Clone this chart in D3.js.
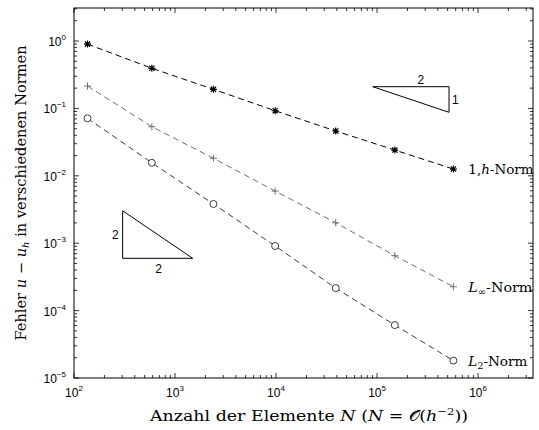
<!DOCTYPE html>
<html>
<head>
<meta charset="utf-8">
<script src="https://cdn.jsdelivr.net/npm/d3@7"></script>
<style>
body { margin: 0; background: #fff; }
</style>
</head>
<body>
<div id="chart"></div>
<script>
var nElements = [136, 590, 2400, 9800, 39000, 150000, 570000];
var errH1 = [0.90, 0.394, 0.192, 0.0924, 0.0462, 0.0241, 0.0126];
var errLinf = [0.215, 0.0535, 0.0182, 0.00594, 0.00201, 0.000653, 0.000226];
var errL2 = [0.0713, 0.0156, 0.00382, 0.00091, 0.000216, 0.000061, 0.0000181];
var xTickExp = [2, 3, 4, 5, 6];
var yTickExp = [0, -1, -2, -3, -4, -5];
// slope triangles: [x0, x1], [y0, y1]
var triUpX = [90600, 516000], triUpY = [0.21, 0.0875];
var triLowX = [303, 1496], triLowY = [0.00303, 0.000597];

var width = 539, height = 430;
var margin = {top: 8, right: 6, bottom: 52, left: 74};
var iw = width - margin.left - margin.right,
    ih = height - margin.top - margin.bottom;

var x = d3.scaleLog().domain([100, 3.5e6]).range([0, iw]);
var y = d3.scaleLog().domain([1e-5, 3.09]).range([ih, 0]);

var serif = "'DejaVu Serif', 'Liberation Serif', serif";

var svg = d3.select("#chart").append("svg")
  .attr("width", width)
  .attr("height", height)
  .style("font-family", "'Liberation Sans', Arial, sans-serif");

var g = svg.append("g")
  .attr("transform", "translate(" + margin.left + "," + margin.top + ")");

// minor / major ticks, inside on all four sides
var xMinor = [], yMinor = [];
for (var e = 2; e <= 6; e++) for (var m = 1; m <= 9; m++) {
  var v = m * Math.pow(10, e);
  if (v <= 3.5e6) xMinor.push(v);
}
for (var e = -5; e <= 0; e++) for (var m = 1; m <= 9; m++) {
  var v = m * Math.pow(10, e);
  if (v <= 3.09) yMinor.push(v);
}
function tickLen(v) {
  var l = Math.log10(v);
  return Math.abs(l - Math.round(l)) < 1e-9 ? 5 : 3;
}
g.selectAll(".xtick").data(xMinor).enter().append("path")
  .attr("d", function(d) {
    var px = x(d), L = tickLen(d);
    return "M" + px + "," + ih + "v" + (-L) + "M" + px + ",0v" + L;
  })
  .attr("stroke", "#000").attr("stroke-width", 0.8);
g.selectAll(".ytick").data(yMinor).enter().append("path")
  .attr("d", function(d) {
    var py = y(d), L = tickLen(d);
    return "M0," + py + "h" + L + "M" + iw + "," + py + "h" + (-L);
  })
  .attr("stroke", "#000").attr("stroke-width", 0.8);

g.append("rect")
  .attr("width", iw).attr("height", ih)
  .attr("fill", "none").attr("stroke", "#000").attr("stroke-width", 1);

// tick labels
var xl = g.selectAll(".xl").data(xTickExp).enter().append("text")
  .attr("x", function(d) { return x(Math.pow(10, d)); })
  .attr("y", ih + 19)
  .attr("text-anchor", "middle")
  .style("font-size", "12px");
xl.append("tspan").text("10");
xl.append("tspan").attr("dy", -6).style("font-size", "8px").text(function(d) { return d; });

var yl = g.selectAll(".yl").data(yTickExp).enter().append("text")
  .attr("x", -8)
  .attr("y", function(d) { return y(Math.pow(10, d)) + 5; })
  .attr("text-anchor", "end")
  .style("font-size", "12px");
yl.append("tspan").text("10");
yl.append("tspan").attr("dy", -6).style("font-size", "8px")
  .text(function(d) { return d < 0 ? "\u2212" + (-d) : d; });

// series
var series = [
  {vals: errH1, color: "#000", marker: "star", label: "h1", w: 65},
  {vals: errLinf, color: "#6e6e6e", marker: "plus", label: "linf", w: 64},
  {vals: errL2, color: "#3c3c3c", marker: "circle", label: "l2", w: 59}
];

var line = d3.line()
  .x(function(d) { return x(d[0]); })
  .y(function(d) { return y(d[1]); });

series.forEach(function(s) {
  var pts = nElements.map(function(n, i) { return [n, s.vals[i]]; });
  g.append("path")
    .attr("d", line(pts))
    .attr("fill", "none")
    .attr("stroke", s.color)
    .attr("stroke-width", 1)
    .attr("stroke-dasharray", "6,4");

  var mk = g.selectAll(".m-" + s.label).data(pts).enter().append("g")
    .attr("transform", function(d) { return "translate(" + x(d[0]) + "," + y(d[1]) + ")"; });
  if (s.marker === "circle") {
    mk.append("circle").attr("r", 3.5)
      .attr("fill", "#fff").attr("stroke", s.color).attr("stroke-width", 1);
  } else if (s.marker === "plus") {
    mk.append("path").attr("d", "M-3.5,0h7M0,-3.5v7")
      .attr("stroke", s.color).attr("stroke-width", 1);
  } else {
    mk.append("path").attr("d", "M-3.5,0h7M0,-3.5v7M-2.6,-2.6l5.2,5.2M-2.6,2.6l5.2,-5.2")
      .attr("stroke", s.color).attr("stroke-width", 1.2);
  }

  var last = pts[pts.length - 1];
  var t = g.append("text")
    .attr("x", x(last[0]) + 15)
    .attr("y", y(last[1]) + 5)
    .attr("textLength", s.w)
    .attr("lengthAdjust", "spacingAndGlyphs")
    .style("font-family", serif)
    .style("font-size", "13px");
  if (s.label === "h1") {
    t.append("tspan").text("1,");
    t.append("tspan").style("font-style", "italic").text("h");
    t.append("tspan").text("-Norm");
  } else if (s.label === "linf") {
    t.append("tspan").style("font-style", "italic").text("L");
    t.append("tspan").attr("dy", 3).style("font-size", "9px").text("\u221e");
    t.append("tspan").attr("dy", -3).text("-Norm");
  } else {
    t.append("tspan").style("font-style", "italic").text("L");
    t.append("tspan").attr("dy", 3).style("font-size", "9px").text("2");
    t.append("tspan").attr("dy", -3).text("-Norm");
  }
});

// slope triangles
g.append("path")
  .attr("d", "M" + x(triUpX[0]) + "," + y(triUpY[0]) +
    "H" + x(triUpX[1]) + "V" + y(triUpY[1]) + "Z")
  .attr("fill", "none").attr("stroke", "#000").attr("stroke-width", 1);
g.append("text")
  .attr("x", (x(triUpX[0]) + x(triUpX[1])) / 2 + 10)
  .attr("y", y(triUpY[0]) - 3)
  .attr("text-anchor", "middle").style("font-size", "12px").text("2");
g.append("text")
  .attr("x", x(triUpX[1]) + 3)
  .attr("y", (y(triUpY[0]) + y(triUpY[1])) / 2 + 4)
  .style("font-size", "12px").text("1");

g.append("path")
  .attr("d", "M" + x(triLowX[0]) + "," + y(triLowY[0]) +
    "V" + y(triLowY[1]) + "H" + x(triLowX[1]) + "Z")
  .attr("fill", "none").attr("stroke", "#000").attr("stroke-width", 1);
g.append("text")
  .attr("x", x(triLowX[0]) - 4)
  .attr("y", (y(triLowY[0]) + y(triLowY[1])) / 2 + 4)
  .attr("text-anchor", "end").style("font-size", "12px").text("2");
g.append("text")
  .attr("x", (x(triLowX[0]) + x(triLowX[1])) / 2 + 1)
  .attr("y", y(triLowY[1]) + 15)
  .attr("text-anchor", "middle").style("font-size", "12px").text("2");

// axis titles
var xt = svg.append("text")
  .attr("x", 150)
  .attr("y", 421)
  .attr("textLength", 318)
  .attr("lengthAdjust", "spacingAndGlyphs")
  .style("font-family", serif)
  .style("font-size", "15px");
xt.append("tspan").text("Anzahl der Elemente ");
xt.append("tspan").style("font-style", "italic").text("N");
xt.append("tspan").text(" (");
xt.append("tspan").style("font-style", "italic").text("N");
xt.append("tspan").text(" = ");
xt.append("tspan").text("\ud835\udcaa");
xt.append("tspan").text("(");
xt.append("tspan").style("font-style", "italic").text("h");
xt.append("tspan").attr("dy", -6).style("font-size", "10px").text("\u22122");
xt.append("tspan").attr("dy", 6).text("))");

var yt = svg.append("text")
  .attr("transform", "translate(26,193) rotate(-90)")
  .attr("text-anchor", "middle")
  .style("font-family", serif)
  .style("font-size", "14.6px");
yt.append("tspan").text("Fehler ");
yt.append("tspan").style("font-style", "italic").text("u");
yt.append("tspan").text(" \u2212 ");
yt.append("tspan").style("font-style", "italic").text("u");
yt.append("tspan").attr("dy", 3).style("font-size", "10px").style("font-style", "italic").text("h");
yt.append("tspan").attr("dy", -3).text(" in verschiedenen Normen");
</script>
</body>
</html>
